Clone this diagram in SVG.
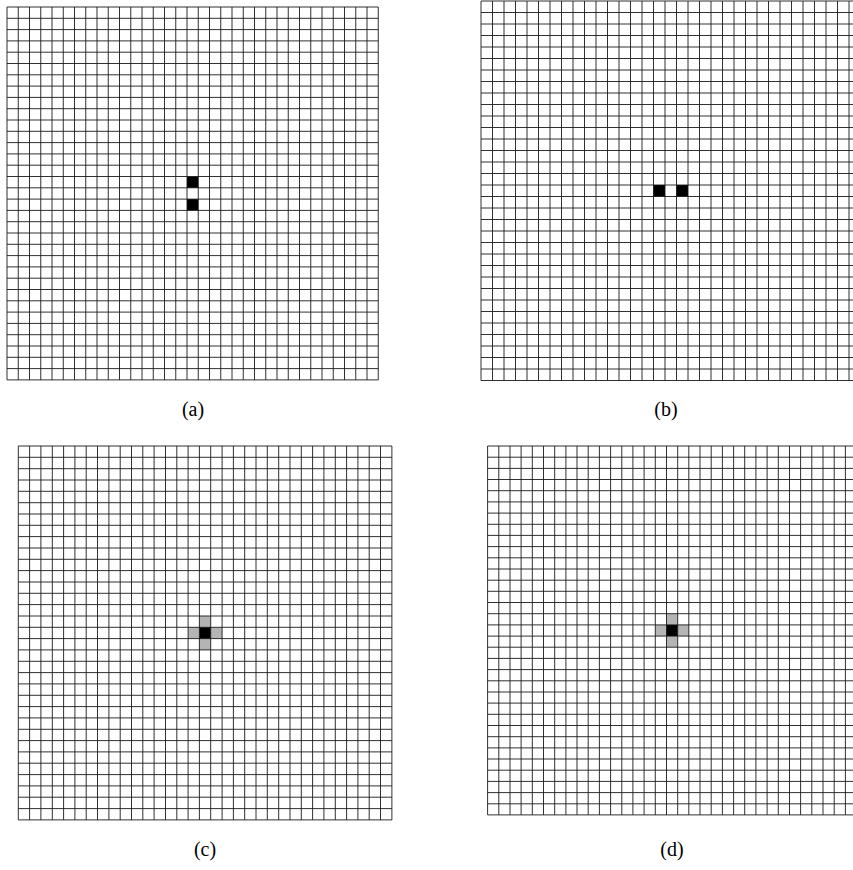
<svg xmlns="http://www.w3.org/2000/svg" width="853" height="870" viewBox="0 0 853 870">
<style>
.grid{fill:none;stroke:#1a1a1a;stroke-width:0.9}
.blk{fill:#000}
.gry{fill:#b4b4b4}
.lbl{font-family:"Liberation Serif","Times New Roman",serif;font-size:20px;fill:#000;text-anchor:middle}
</style>
<rect width="853" height="870" fill="#fff"/>
<g id="panel-a">
<rect class="blk" x="187" y="176.5" width="11.25" height="11.3"/>
<rect class="blk" x="187" y="199.1" width="11.25" height="11.3"/>
<path class="grid" d="M7 7V379.9M18.25 7V379.9M29.5 7V379.9M40.75 7V379.9M52 7V379.9M63.25 7V379.9M74.5 7V379.9M85.75 7V379.9M97 7V379.9M108.25 7V379.9M119.5 7V379.9M130.75 7V379.9M142 7V379.9M153.25 7V379.9M164.5 7V379.9M175.75 7V379.9M187 7V379.9M198.25 7V379.9M209.5 7V379.9M220.75 7V379.9M232 7V379.9M243.25 7V379.9M254.5 7V379.9M265.75 7V379.9M277 7V379.9M288.25 7V379.9M299.5 7V379.9M310.75 7V379.9M322 7V379.9M333.25 7V379.9M344.5 7V379.9M355.75 7V379.9M367 7V379.9M378.25 7V379.9
M7 7H378.25M7 18.3H378.25M7 29.6H378.25M7 40.9H378.25M7 52.2H378.25M7 63.5H378.25M7 74.8H378.25M7 86.1H378.25M7 97.4H378.25M7 108.7H378.25M7 120H378.25M7 131.3H378.25M7 142.6H378.25M7 153.9H378.25M7 165.2H378.25M7 176.5H378.25M7 187.8H378.25M7 199.1H378.25M7 210.4H378.25M7 221.7H378.25M7 233H378.25M7 244.3H378.25M7 255.6H378.25M7 266.9H378.25M7 278.2H378.25M7 289.5H378.25M7 300.8H378.25M7 312.1H378.25M7 323.4H378.25M7 334.7H378.25M7 346H378.25M7 357.3H378.25M7 368.6H378.25M7 379.9H378.25"/>
<text class="lbl" x="193" y="416">(a)</text>
</g>
<g id="panel-b">
<rect class="blk" x="653.5" y="185" width="11.5" height="11.5"/>
<rect class="blk" x="676.5" y="185" width="11.5" height="11.5"/>
<path class="grid" d="M481 1V380.5M492.5 1V380.5M504 1V380.5M515.5 1V380.5M527 1V380.5M538.5 1V380.5M550 1V380.5M561.5 1V380.5M573 1V380.5M584.5 1V380.5M596 1V380.5M607.5 1V380.5M619 1V380.5M630.5 1V380.5M642 1V380.5M653.5 1V380.5M665 1V380.5M676.5 1V380.5M688 1V380.5M699.5 1V380.5M711 1V380.5M722.5 1V380.5M734 1V380.5M745.5 1V380.5M757 1V380.5M768.5 1V380.5M780 1V380.5M791.5 1V380.5M803 1V380.5M814.5 1V380.5M826 1V380.5M837.5 1V380.5M849 1V380.5
M481 1H860M481 12.5H860M481 24H860M481 35.5H860M481 47H860M481 58.5H860M481 70H860M481 81.5H860M481 93H860M481 104.5H860M481 116H860M481 127.5H860M481 139H860M481 150.5H860M481 162H860M481 173.5H860M481 185H860M481 196.5H860M481 208H860M481 219.5H860M481 231H860M481 242.5H860M481 254H860M481 265.5H860M481 277H860M481 288.5H860M481 300H860M481 311.5H860M481 323H860M481 334.5H860M481 346H860M481 357.5H860M481 369H860M481 380.5H860"/>
<text class="lbl" x="666" y="416">(b)</text>
</g>
<g id="panel-c">
<rect class="gry" x="188.1" y="627.28" width="11.32" height="11.33"/>
<rect class="gry" x="210.74" y="627.28" width="11.32" height="11.33"/>
<rect class="gry" x="199.42" y="615.95" width="11.32" height="11.33"/>
<rect class="gry" x="199.42" y="638.61" width="11.32" height="11.33"/>
<rect class="blk" x="199.42" y="627.28" width="11.32" height="11.33"/>
<path class="grid" d="M18.3 446V819.9M29.6 446V819.9M40.9 446V819.9M52.3 446V819.9M63.6 446V819.9M74.9 446V819.9M86.2 446V819.9M97.5 446V819.9M108.9 446V819.9M120.2 446V819.9M131.5 446V819.9M142.8 446V819.9M154.1 446V819.9M165.5 446V819.9M176.8 446V819.9M188.1 446V819.9M199.4 446V819.9M210.7 446V819.9M222.1 446V819.9M233.4 446V819.9M244.7 446V819.9M256 446V819.9M267.3 446V819.9M278.7 446V819.9M290 446V819.9M301.3 446V819.9M312.6 446V819.9M323.9 446V819.9M335.3 446V819.9M346.6 446V819.9M357.9 446V819.9M369.2 446V819.9M380.5 446V819.9M391.9 446V819.9
M18.3 446H391.9M18.3 457.3H391.9M18.3 468.7H391.9M18.3 480H391.9M18.3 491.3H391.9M18.3 502.7H391.9M18.3 514H391.9M18.3 525.3H391.9M18.3 536.6H391.9M18.3 548H391.9M18.3 559.3H391.9M18.3 570.6H391.9M18.3 582H391.9M18.3 593.3H391.9M18.3 604.6H391.9M18.3 616H391.9M18.3 627.3H391.9M18.3 638.6H391.9M18.3 649.9H391.9M18.3 661.3H391.9M18.3 672.6H391.9M18.3 683.9H391.9M18.3 695.3H391.9M18.3 706.6H391.9M18.3 717.9H391.9M18.3 729.3H391.9M18.3 740.6H391.9M18.3 751.9H391.9M18.3 763.2H391.9M18.3 774.6H391.9M18.3 785.9H391.9M18.3 797.2H391.9M18.3 808.6H391.9M18.3 819.9H391.9"/>
<text class="lbl" x="205" y="856">(c)</text>
</g>
<g id="panel-d">
<rect class="gry" x="655.3" y="624.88" width="11.18" height="11.18"/>
<rect class="gry" x="677.66" y="624.88" width="11.18" height="11.18"/>
<rect class="gry" x="666.48" y="613.7" width="11.18" height="11.18"/>
<rect class="gry" x="666.48" y="636.06" width="11.18" height="11.18"/>
<rect class="blk" x="666.48" y="624.88" width="11.18" height="11.18"/>
<path class="grid" d="M487.6 446V814.9M498.8 446V814.9M510 446V814.9M521.1 446V814.9M532.3 446V814.9M543.5 446V814.9M554.7 446V814.9M565.9 446V814.9M577 446V814.9M588.2 446V814.9M599.4 446V814.9M610.6 446V814.9M621.8 446V814.9M632.9 446V814.9M644.1 446V814.9M655.3 446V814.9M666.5 446V814.9M677.7 446V814.9M688.8 446V814.9M700 446V814.9M711.2 446V814.9M722.4 446V814.9M733.6 446V814.9M744.7 446V814.9M755.9 446V814.9M767.1 446V814.9M778.3 446V814.9M789.5 446V814.9M800.6 446V814.9M811.8 446V814.9M823 446V814.9M834.2 446V814.9M845.4 446V814.9
M487.6 446H857M487.6 457.2H857M487.6 468.4H857M487.6 479.5H857M487.6 490.7H857M487.6 501.9H857M487.6 513.1H857M487.6 524.3H857M487.6 535.4H857M487.6 546.6H857M487.6 557.8H857M487.6 569H857M487.6 580.2H857M487.6 591.3H857M487.6 602.5H857M487.6 613.7H857M487.6 624.9H857M487.6 636.1H857M487.6 647.2H857M487.6 658.4H857M487.6 669.6H857M487.6 680.8H857M487.6 692H857M487.6 703.1H857M487.6 714.3H857M487.6 725.5H857M487.6 736.7H857M487.6 747.9H857M487.6 759H857M487.6 770.2H857M487.6 781.4H857M487.6 792.6H857M487.6 803.8H857M487.6 814.9H857"/>
<text class="lbl" x="672" y="856">(d)</text>
</g>
</svg>
